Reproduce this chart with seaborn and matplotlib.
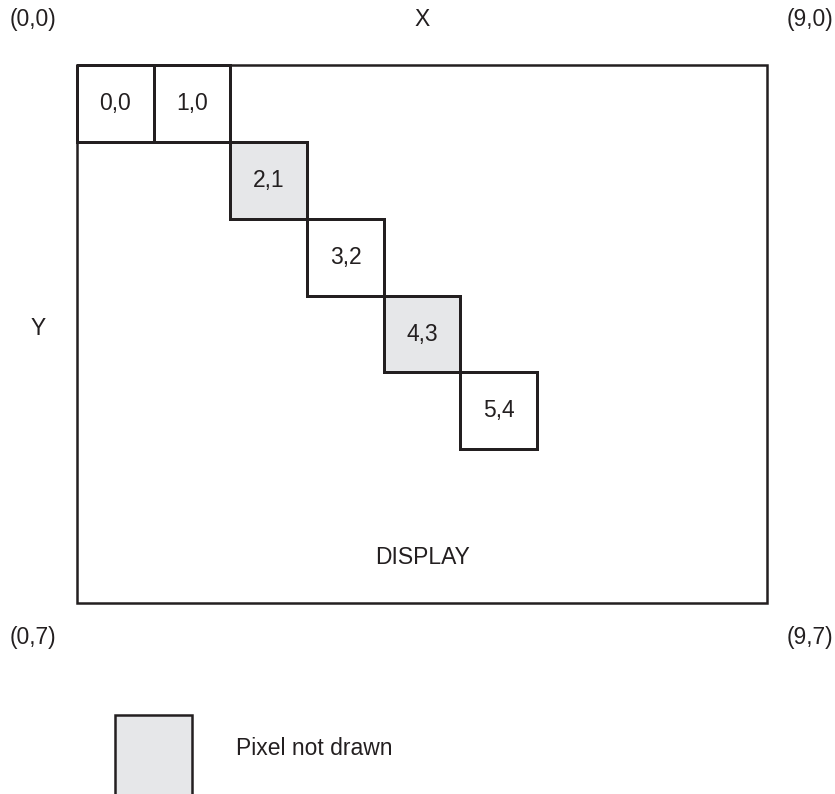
import numpy as np
import matplotlib
matplotlib.use("Agg")
import matplotlib.pyplot as plt
import matplotlib.patches as patches
from matplotlib.colors import ListedColormap, to_rgba
import seaborn as sns

sns.set_theme(style="white")
plt.rcParams["font.family"] = ["Liberation Sans", "DejaVu Sans"]

# display grid and the pixels along the line
n_cols, n_rows = 9, 7
px = [0, 1, 2, 3, 4, 5]
py = [0, 0, 1, 2, 3, 4]
not_drawn = [0, 0, 1, 0, 1, 0]

corner_labels = ["(0,0)", "(9,0)", "(0,7)", "(9,7)"]
legend_label = "Pixel not drawn"

EDGE = "#231f20"
GRAY = "#e6e7e9"
FS = 16.5

grid = np.zeros((n_rows, n_cols))
mask = np.ones((n_rows, n_cols), dtype=bool)
annot = np.full((n_rows, n_cols), "", dtype=object)
for x, y, nd in zip(px, py, not_drawn):
    grid[y, x] = nd
    mask[y, x] = False
    annot[y, x] = f"{x},{y}"

fig = plt.figure(figsize=(8.35, 7.94), dpi=100)
ax = fig.add_axes([0, 0, 1, 1])

sns.heatmap(grid, mask=mask, annot=annot, fmt="", cmap=ListedColormap(["white", GRAY]),
            vmin=0, vmax=1, cbar=False, linewidths=1.8, linecolor=EDGE,
            annot_kws={"fontsize": FS, "color": EDGE}, ax=ax)

# no outlines on the masked (empty) cells
mesh = ax.collections[0]
mesh.set_edgecolor([to_rgba(EDGE) if not m else (0, 0, 0, 0) for m in mask.ravel()])

# outer display frame
ax.add_patch(patches.Rectangle((0, 0), n_cols, n_rows, fill=False, ec=EDGE, lw=1.8, zorder=3))

ax.set_xlim(-1.004, 9.883)
ax.set_ylim(9.484, -0.845)
ax.axis("off")

kw = dict(fontsize=FS, color=EDGE, ha="center", va="center")
ax.text(-0.574, -0.585, corner_labels[0], **kw)
ax.text(n_cols / 2, -0.585, "X", **kw)
ax.text(9.557, -0.585, corner_labels[1], **kw)
ax.text(-0.51, 3.43, "Y", **kw)
ax.text(-0.574, 7.45, corner_labels[2], **kw)
ax.text(9.557, 7.45, corner_labels[3], **kw)
ax.text(n_cols / 2, 6.41, "DISPLAY", **kw)

# legend swatch (runs off the bottom edge)
ax.add_patch(patches.Rectangle((0.5, 8.45), 1, 1.5, fc=GRAY, ec=EDGE, lw=1.8))
ax.text(2.07, 8.89, legend_label, fontsize=FS, color=EDGE, ha="left", va="center")

fig.savefig("out.png", dpi=100)
